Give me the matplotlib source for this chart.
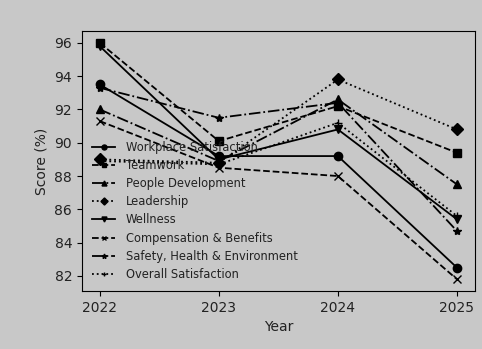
import matplotlib

matplotlib.use("Agg")

import matplotlib.pyplot as plt

BG = "#c8c8c8"

years = [2022, 2023, 2024, 2025]

workplace = [93.5, 89.2, 89.2, 82.5]
teamwork = [96.0, 90.1, 92.2, 89.4]
people_dev = [92.0, 88.9, 92.6, 87.5]
leadership = [89.0, 88.8, 93.8, 90.8]
wellness = [95.8, 89.0, 90.8, 85.4]
compensation = [91.3, 88.5, 88.0, 81.8]
safety = [93.3, 91.5, 92.4, 84.7]
overall = [88.9, 88.7, 91.2, 85.6]

series = [
    ("Workplace Satisfaction", workplace, "-", "o"),
    ("Teamwork", teamwork, "--", "s"),
    ("People Development", people_dev, "-.", "^"),
    ("Leadership", leadership, ":", "D"),
    ("Wellness", wellness, "-", "v"),
    ("Compensation & Benefits", compensation, "--", "x"),
    ("Safety, Health & Environment", safety, "-.", "*"),
    ("Overall Satisfaction", overall, ":", "+"),
]

fig = plt.figure(figsize=(4.82, 3.49), dpi=100, facecolor=BG)
ax = fig.add_axes([0.170, 0.166, 0.815, 0.745])
ax.set_facecolor(BG)

for label, values, ls, mk in series:
    ax.plot(years, values, linestyle=ls, marker=mk, color="black",
            linewidth=1.3, markersize=6, label=label)

ax.set_xticks(years)
ax.set_xlabel("Year", fontsize=10, color="#222222")
ax.set_ylabel("Score (%)", fontsize=10, color="#222222")
ax.tick_params(labelsize=10, labelcolor="#222222")

leg = ax.legend(loc="lower left", frameon=False, fontsize=8.3,
                labelspacing=0.44, markerscale=0.6, borderaxespad=0.5,
                handletextpad=0.9)
for txt in leg.get_texts():
    txt.set_color("#222222")

fig.savefig("out.png", dpi=100, facecolor=BG)
